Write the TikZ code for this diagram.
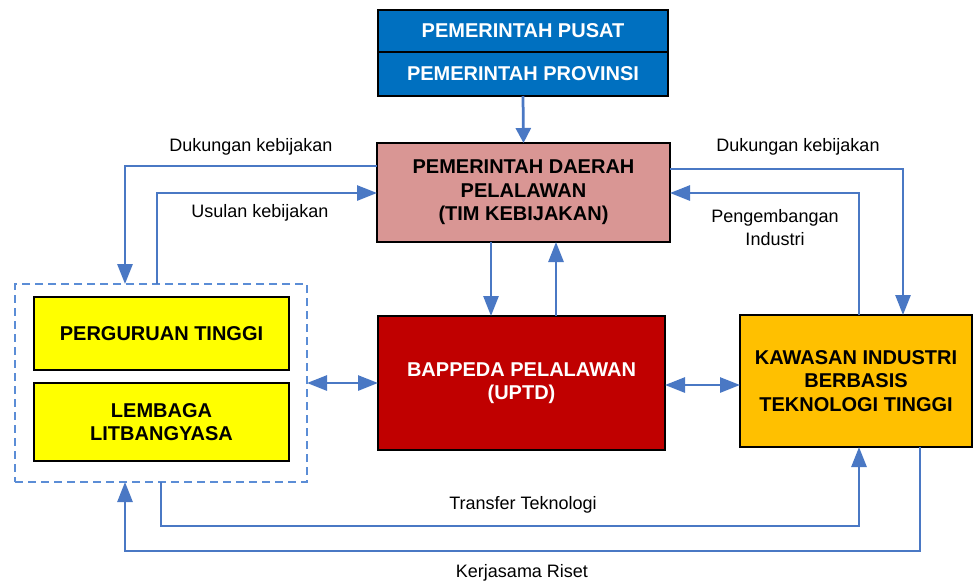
\documentclass[tikz,border=0pt]{standalone}
\usepackage{fontspec}
\setmainfont{Liberation Sans}
\usetikzlibrary{arrows.meta}
\definecolor{cblue}{HTML}{0070C0}
\definecolor{cpink}{HTML}{D99694}
\definecolor{cred}{HTML}{C00000}
\definecolor{cyel}{HTML}{FFFF00}
\definecolor{corg}{HTML}{FFC000}
\definecolor{cline}{HTML}{4A78C4}
\definecolor{cdash}{HTML}{5B8DD6}
\tikzset{
  boxbase/.style={draw=black, line width=2pt, inner sep=0pt, outer sep=0pt, align=center,
    font=\bfseries\fontsize{20}{23.5}\selectfont},
  arr/.style={draw=cline, line width=2.75pt, -{Triangle[length=20pt,width=15pt]}},
  arrshort/.style={draw=cline, line width=2.75pt, -{Triangle[length=15pt,width=15pt]}},
  darr/.style={draw=cline, line width=2.75pt, {Triangle[length=20pt,width=15pt]}-{Triangle[length=20pt,width=15pt]}},
  lbl/.style={font=\fontsize{18}{23}\selectfont, align=center, inner sep=0pt}
}
\begin{document}
\begin{tikzpicture}[x=1pt,y=-1pt]
\useasboundingbox (0,0) rectangle (974,582);
% boxes
\node[boxbase, fill=cblue, text=white, minimum width=290pt, minimum height=42pt] (pusat) at (523,31) {PEMERINTAH PUSAT};
\node[boxbase, fill=cblue, text=white, minimum width=290pt, minimum height=44pt] (prov) at (523,74) {PEMERINTAH PROVINSI};
\node[boxbase, fill=cpink, minimum width=293pt, minimum height=99pt] (pink) at (523.5,192.5) {PEMERINTAH DAERAH\\PELALAWAN\\(TIM KEBIJAKAN)};
\node[boxbase, fill=cred, text=white, minimum width=287pt, minimum height=134pt] (red) at (521.5,383) {BAPPEDA PELALAWAN\\(UPTD)};
\node[draw=cdash, line width=1.5pt, dash pattern=on 8pt off 5pt, minimum width=292pt, minimum height=198pt, inner sep=0pt, outer sep=0pt] (dashed) at (161,383) {};
\node[boxbase, fill=cyel, minimum width=255pt, minimum height=73pt] (pt) at (161.5,333.5) {PERGURUAN TINGGI};
\node[boxbase, fill=cyel, minimum width=255pt, minimum height=78pt] (lit) at (161.5,422) {LEMBAGA\\LITBANGYASA};
\node[boxbase, fill=corg, minimum width=232pt, minimum height=132pt] (orange) at (856,381) {KAWASAN INDUSTRI\\BERBASIS\\TEKNOLOGI TINGGI};
% helper coordinates
\coordinate (dk1) at (125,166);
\coordinate (us) at (157,193);
\coordinate (dk2) at (903,169);
\coordinate (pg) at (859,193);
\coordinate (dn) at (491,0);
\coordinate (up) at (556,0);
\coordinate (d1) at (0,383);
\coordinate (d2) at (0,385);
\coordinate (tt1) at (161,526);
\coordinate (tt2) at (859,526);
\coordinate (kr1) at (920,551);
\coordinate (kr2) at (125,551);
% connectors
\draw[arrshort] (prov.south) -- (pink.north);
\draw[arr] (pink.west|-dk1) -| (dashed.north-|dk1);
\draw[arr] (dashed.north-|us) |- (pink.west|-us);
\draw[arr] (pink.east|-dk2) -| (orange.north-|dk2);
\draw[arr] (orange.north-|pg) |- (pink.east|-pg);
\draw[arr] (pink.south-|dn) -- (red.north-|dn);
\draw[arr] (red.north-|up) -- (pink.south-|up);
\draw[darr] (dashed.east|-d1) -- (red.west|-d1);
\draw[darr] (red.east|-d2) -- (orange.west|-d2);
\draw[arr] (dashed.south-|tt1) -- (tt1) -- (tt2) -- (orange.south-|tt2);
\draw[arr] (orange.south-|kr1) -- (kr1) -- (kr2) -- (dashed.south-|kr2);
% labels
\node[lbl] (l1) at (251,147) {Dukungan kebijakan};
\node[lbl] (l2) at (260,213) {Usulan kebijakan};
\node[lbl] (l3) at (798,147) {Dukungan kebijakan};
\node[lbl] (l4) at (775,228) {Pengembangan\\Industri};
\node[lbl] (l5) at (523,505) {Transfer Teknologi};
\node[lbl] (l6) at (522,573) {Kerjasama Riset};
\end{tikzpicture}
\end{document}
